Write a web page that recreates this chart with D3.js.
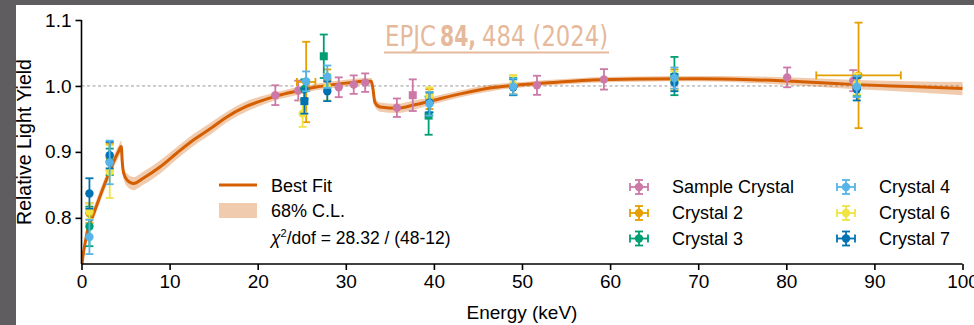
<!DOCTYPE html>
<html>
<head>
<meta charset="utf-8">
<script src="https://cdn.jsdelivr.net/npm/d3@7"></script>
<style>
  html, body { margin: 0; padding: 0; background: #fff; }
  svg { display: block; }
  text { font-family: "Liberation Sans", Arial, Helvetica, sans-serif; }
</style>
</head>
<body>
<svg id="chart" width="974" height="325"></svg>
<script>
// ---- Best-fit light-yield model (energy in keV, relative yield, 68% band half-width)
const fitEnergy = [0, 0.2, 0.4, 0.77, 1.16, 2.48, 4.18, 4.52, 4.62, 4.8, 5.2, 5.9, 7.0, 8.9, 10.8, 12.7, 14.6, 16.5, 18.4, 20.3, 22.2, 24.4, 26.5, 28.5, 30.5, 32.0, 32.9, 33.1, 33.3, 33.9, 35.8, 37.7, 39.6, 43.0, 46.7, 50.5, 54.3, 58.0, 63.4, 70.0, 76.0, 82.3, 88.0, 94.0, 100.0];
const fitYield  = [0.722, 0.745, 0.761, 0.786, 0.799, 0.846, 0.900, 0.908, 0.886, 0.867, 0.857, 0.852, 0.860, 0.877, 0.898, 0.918, 0.935, 0.953, 0.967, 0.977, 0.985, 0.992, 0.998, 1.002, 1.005, 1.007, 1.007, 0.994, 0.975, 0.968, 0.966, 0.971, 0.977, 0.988, 0.9975, 1.0025, 1.006, 1.009, 1.0105, 1.011, 1.0095, 1.006, 1.002, 0.999, 0.996];
const fitBand   = [0.009, 0.009, 0.009, 0.009, 0.009, 0.009, 0.009, 0.009, 0.009, 0.009, 0.010, 0.010, 0.010, 0.010, 0.009, 0.009, 0.009, 0.008, 0.008, 0.007, 0.006, 0.006, 0.005, 0.005, 0.005, 0.005, 0.005, 0.006, 0.007, 0.007, 0.007, 0.007, 0.006, 0.005, 0.005, 0.004, 0.004, 0.004, 0.004, 0.004, 0.005, 0.006, 0.007, 0.008, 0.010];

// ---- Measurements, one set of arrays per crystal
const seriesNames  = ["Sample Crystal", "Crystal 2", "Crystal 3", "Crystal 4", "Crystal 6", "Crystal 7"];
const seriesColors = ["#CC79A7", "#E69F00", "#009E73", "#56B4E9", "#F0E442", "#0072B2"];

const sampleE   = [22.0, 24.6, 29.2, 30.9, 32.2, 35.8, 37.6, 51.7, 59.3, 80.1, 87.6];
const sampleY   = [0.986, 0.993, 0.998, 1.002, 1.005, 0.967, 0.986, 1.001, 1.010, 1.013, 1.008];
const sampleErr = [0.015, 0.015, 0.015, 0.014, 0.014, 0.014, 0.024, 0.0145, 0.0155, 0.015, 0.016];
const sampleXErr = [0, 0, 0, 0, 0, 0, 0, 0, 0, 0, 0];
const sampleShape = ["o", "o", "o", "o", "o", "o", "s", "o", "o", "o", "o"];

const crystal2E   = [0.9, 3.2, 25.5, 27.9, 39.5, 49.0, 67.3, 88.2];
const crystal2Y   = [0.807, 0.892, 1.006, 1.010, 0.980, 1.002, 1.010, 1.016];
const crystal2Err = [0.015, 0.020, 0.061, 0.015, 0.015, 0.014, 0.015, 0.080];
const crystal2XErr = [0, 0, 1.05, 0, 0, 0, 0, 4.8];
const crystal2Shape = ["o", "o", "o", "o", "o", "o", "o", "o"];

const crystal3E   = [0.9, 3.2, 25.3, 27.5, 39.4, 49.0, 67.3, 88.0];
const crystal3Y   = [0.787, 0.885, 0.995, 1.045, 0.955, 0.999, 1.015, 1.000];
const crystal3Err = [0.030, 0.020, 0.015, 0.033, 0.029, 0.013, 0.029, 0.015];
const crystal3XErr = [0, 0, 0, 0, 0, 0, 0, 0];
const crystal3Shape = ["o", "o", "o", "s", "s", "o", "o", "o"];

const crystal4E   = [0.9, 3.2, 25.5, 27.9, 39.5, 49.0, 67.3, 88.0];
const crystal4Y   = [0.771, 0.884, 1.007, 1.014, 0.973, 0.999, 1.012, 0.999];
const crystal4Err = [0.026, 0.033, 0.015, 0.017, 0.018, 0.012, 0.016, 0.016];
const crystal4XErr = [0, 0, 0, 0, 0, 0, 0, 0];
const crystal4Shape = ["o", "o", "o", "o", "o", "o", "o", "o"];

const crystal6E   = [0.9, 3.2, 25.1, 27.9, 39.5, 49.0, 67.3, 88.0];
const crystal6Y   = [0.810, 0.870, 0.958, 0.998, 0.985, 1.002, 1.008, 1.003];
const crystal6Err = [0.012, 0.040, 0.020, 0.020, 0.013, 0.014, 0.014, 0.016];
const crystal6XErr = [0, 0, 0, 0, 0, 0, 0, 0];
const crystal6Shape = ["o", "o", "o", "o", "o", "o", "o", "o"];

const crystal7E   = [0.9, 3.2, 25.3, 27.9, 39.5, 49.0, 67.3, 88.0];
const crystal7Y   = [0.837, 0.895, 0.977, 0.992, 0.975, 0.998, 1.005, 0.995];
const crystal7Err = [0.023, 0.020, 0.019, 0.015, 0.015, 0.012, 0.013, 0.017];
const crystal7XErr = [0, 0, 0, 0, 0, 0, 0, 0];
const crystal7Shape = ["o", "o", "s", "o", "o", "o", "o", "o"];

const xTicks = [0, 10, 20, 30, 40, 50, 60, 70, 80, 90, 100];
const yTicks = [0.8, 0.9, 1.0, 1.1];

const xLabel = "Energy (keV)";
const yLabel = "Relative Light Yield";
const fitLabel = "Best Fit";
const bandLabel = "68% C.L.";
const chi2Value = "28.32 / (48-12)";

// ---- assemble series
function pack(E, Y, err, xerr, shape) {
  return E.map((e, i) => ({ e, y: Y[i], err: err[i], xerr: xerr[i], shape: shape[i] }));
}
const series = [
  pack(sampleE, sampleY, sampleErr, sampleXErr, sampleShape),
  pack(crystal2E, crystal2Y, crystal2Err, crystal2XErr, crystal2Shape),
  pack(crystal3E, crystal3Y, crystal3Err, crystal3XErr, crystal3Shape),
  pack(crystal4E, crystal4Y, crystal4Err, crystal4XErr, crystal4Shape),
  pack(crystal6E, crystal6Y, crystal6Err, crystal6XErr, crystal6Shape),
  pack(crystal7E, crystal7Y, crystal7Err, crystal7XErr, crystal7Shape)
];
// drawing order: light-blue crystal last so it sits on top
const drawOrder = [0, 1, 2, 4, 5, 3];

const svg = d3.select("#chart");

// page frame
svg.append("rect").attr("x", 0).attr("y", 0).attr("width", 974).attr("height", 325).attr("fill", "#fff");
svg.append("rect").attr("x", 0).attr("y", 0).attr("width", 974).attr("height", 5).attr("fill", "#5f5d60");
svg.append("rect").attr("x", 0).attr("y", 0).attr("width", 16).attr("height", 325).attr("fill", "#5f5d60");

const x = d3.scaleLinear().domain([0, 100]).range([81.5, 962.5]);
const y = d3.scaleLinear().domain([0.73, 1.1]).range([264, 20]);

svg.append("defs").append("clipPath").attr("id", "plotClip")
  .append("rect").attr("x", x(0)).attr("y", 0).attr("width", 974 - x(0)).attr("height", y(0.73));

// reference line at unity
svg.append("line")
  .attr("x1", x(0)).attr("x2", x(100)).attr("y1", y(1.0)).attr("y2", y(1.0))
  .attr("stroke", "#9a9a9a").attr("stroke-width", 1).attr("stroke-dasharray", "3,2.5");

// fit band + line
const fitData = fitEnergy.map((e, i) => ({ e, v: fitYield[i], b: fitBand[i] }));
const plot = svg.append("g").attr("clip-path", "url(#plotClip)");
plot.append("path")
  .datum(fitData)
  .attr("fill", "#D55E00").attr("fill-opacity", 0.32)
  .attr("d", d3.area().x(d => x(d.e)).y0(d => y(d.v - d.b)).y1(d => y(d.v + d.b)).curve(d3.curveMonotoneX));
plot.append("path")
  .datum(fitData)
  .attr("fill", "none").attr("stroke", "#D55E00").attr("stroke-width", 3)
  .attr("d", d3.line().x(d => x(d.e)).y(d => y(d.v)).curve(d3.curveMonotoneX));

// data points with error bars
const cap = 4;
drawOrder.forEach(si => {
  const col = seriesColors[si];
  const g = svg.append("g").attr("stroke", col).attr("fill", col).attr("stroke-width", 1.8);
  series[si].forEach(p => {
    const cx = x(p.e), cy = y(p.y);
    const y1 = y(p.y + p.err), y2 = y(p.y - p.err);
    g.append("line").attr("x1", cx).attr("x2", cx).attr("y1", y1).attr("y2", y2);
    g.append("line").attr("x1", cx - cap).attr("x2", cx + cap).attr("y1", y1).attr("y2", y1);
    g.append("line").attr("x1", cx - cap).attr("x2", cx + cap).attr("y1", y2).attr("y2", y2);
    if (p.xerr > 0) {
      const x1 = x(p.e - p.xerr), x2 = x(p.e + p.xerr);
      g.append("line").attr("x1", x1).attr("x2", x2).attr("y1", cy).attr("y2", cy);
      g.append("line").attr("x1", x1).attr("x2", x1).attr("y1", cy - cap).attr("y2", cy + cap);
      g.append("line").attr("x1", x2).attr("x2", x2).attr("y1", cy - cap).attr("y2", cy + cap);
    }
    if (p.shape === "s") {
      g.append("rect").attr("x", cx - 4).attr("y", cy - 4).attr("width", 8).attr("height", 8).attr("stroke", "none");
    } else {
      g.append("circle").attr("cx", cx).attr("cy", cy).attr("r", 4.2).attr("stroke", "none");
    }
  });
});

// axes
const xAxis = svg.append("g").attr("transform", `translate(0,${y(0.73)})`)
  .call(d3.axisBottom(x).tickValues(xTicks).tickFormat(d3.format("d")).tickSize(6).tickPadding(5));
const yAxis = svg.append("g").attr("transform", `translate(${x(0)},0)`)
  .call(d3.axisLeft(y).tickValues(yTicks).tickFormat(d3.format(".1f")).tickSize(6).tickPadding(4));
[xAxis, yAxis].forEach(a => {
  a.select(".domain").attr("stroke", "#000").attr("stroke-width", 1.6);
  a.selectAll(".tick line").attr("stroke", "#000").attr("stroke-width", 1.6);
  a.selectAll(".tick text").attr("fill", "#000").style("font-size", "19px")
    .style("font-family", '"Liberation Sans", Arial, sans-serif');
});
xAxis.select(".domain").attr("d", `M${x(0)},0H${x(100)}`);
yAxis.select(".domain").attr("d", `M0,${y(1.1)}V${y(0.73)}`);

// axis titles
svg.append("text").attr("x", x(50)).attr("y", 318.5).attr("text-anchor", "middle")
  .style("font-size", "19px").text(xLabel);
svg.append("text").attr("transform", "rotate(-90)").attr("x", -142).attr("y", 31)
  .attr("text-anchor", "middle").style("font-size", "19.5px").text(yLabel);

// fit legend
svg.append("line").attr("x1", 219).attr("x2", 257).attr("y1", 185).attr("y2", 185)
  .attr("stroke", "#D55E00").attr("stroke-width", 3);
svg.append("text").attr("x", 271).attr("y", 191.5).style("font-size", "18px").text(fitLabel);
svg.append("rect").attr("x", 219).attr("y", 203).attr("width", 38).attr("height", 15)
  .attr("fill", "#D55E00").attr("fill-opacity", 0.32);
svg.append("text").attr("x", 271).attr("y", 217).style("font-size", "18px").text(bandLabel);
const chi = svg.append("text").attr("x", 271).attr("y", 243.5).style("font-size", "17.5px");
chi.append("tspan").style("font-style", "italic").text("χ");
chi.append("tspan").attr("dy", -7).style("font-size", "11px").text("2");
chi.append("tspan").attr("dy", 7).text("/dof = " + chi2Value);

// crystal legend
const legPos = [[639, 187], [639, 213], [639, 238.5], [846, 187], [846, 213], [846, 238.5]];
seriesNames.forEach((name, i) => {
  const [lx, ly] = legPos[i];
  const col = seriesColors[i];
  const g = svg.append("g").attr("stroke", col).attr("fill", col).attr("stroke-width", 1.8);
  g.append("line").attr("x1", lx - 9).attr("x2", lx + 9).attr("y1", ly).attr("y2", ly);
  g.append("line").attr("x1", lx - 9).attr("x2", lx - 9).attr("y1", ly - 4).attr("y2", ly + 4);
  g.append("line").attr("x1", lx + 9).attr("x2", lx + 9).attr("y1", ly - 4).attr("y2", ly + 4);
  g.append("line").attr("x1", lx).attr("x2", lx).attr("y1", ly - 7).attr("y2", ly + 7);
  g.append("line").attr("x1", lx - 4).attr("x2", lx + 4).attr("y1", ly - 7).attr("y2", ly - 7);
  g.append("line").attr("x1", lx - 4).attr("x2", lx + 4).attr("y1", ly + 7).attr("y2", ly + 7);
  g.append("circle").attr("cx", lx).attr("cy", ly).attr("r", 4.2).attr("stroke", "none");
  svg.append("text").attr("x", lx + 33).attr("y", ly + 6).style("font-size", "18px").text(name);
});

// journal reference banner, drawn as three separately fitted runs
const refColor = "#e6b99b";
const refFont = '"Liberation Sans Narrow", "DejaVu Sans Condensed", "Roboto Condensed", sans-serif';
const refParts = [
  { text: "EPJC", x: 385, len: 51, bold: false },
  { text: "84,", x: 440, len: 36, bold: true },
  { text: "484 (2024)", x: 482, len: 126, bold: false }
];
refParts.forEach(p => {
  svg.append("text").attr("x", p.x).attr("y", 46)
    .attr("textLength", p.len).attr("lengthAdjust", "spacingAndGlyphs")
    .style("font-family", refFont).style("font-size", "29px")
    .style("font-weight", p.bold ? "bold" : "normal")
    .attr("fill", refColor).text(p.text);
});
svg.append("line").attr("x1", 384).attr("x2", 609).attr("y1", 52.5).attr("y2", 52.5)
  .attr("stroke", refColor).attr("stroke-width", 2);
</script>
</body>
</html>
